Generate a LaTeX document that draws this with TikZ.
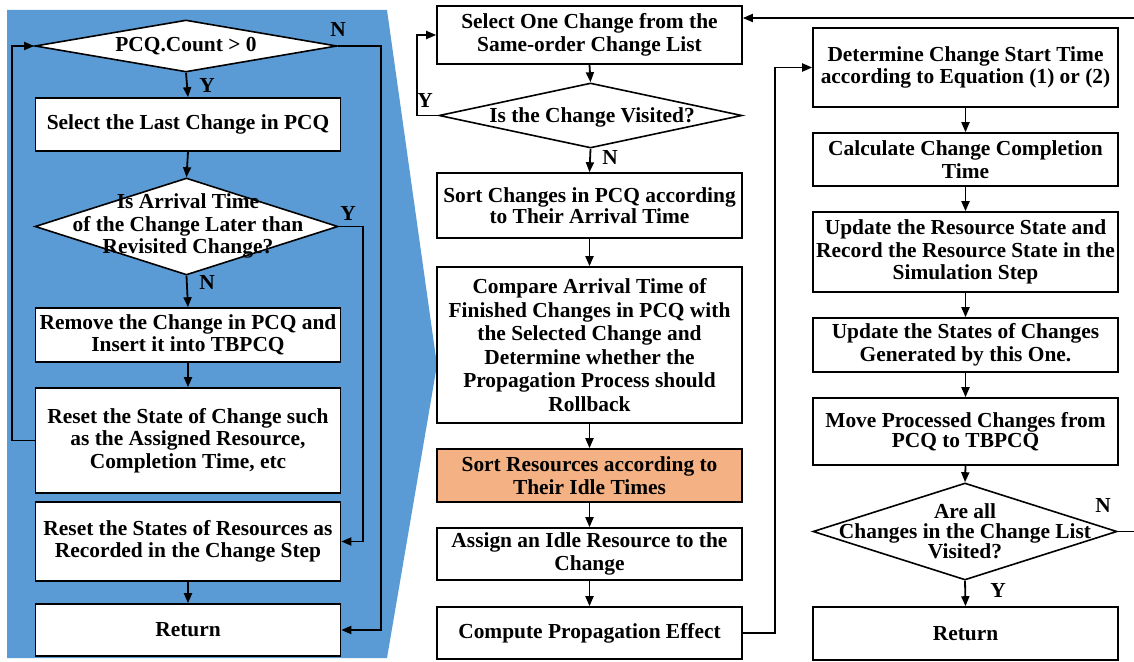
\documentclass[tikz,border=0pt]{standalone}
\usepackage{fontspec}
\setmainfont{Liberation Serif}
\usetikzlibrary{shapes.geometric,arrows.meta}
\definecolor{panelblue}{RGB}{91,155,213}
\definecolor{hilite}{RGB}{244,177,131}
\begin{document}
\begin{tikzpicture}[x=1pt,y=-1pt,
  txt/.style={font=\fontsize{21.4}{22.5}\selectfont\bfseries, align=center},
  tight/.style={font=\fontsize{21.4}{18.5}\selectfont\bfseries},
  box/.style={draw, line width=1.6pt, fill=white, minimum width=305pt, inner sep=0pt, txt},
  dia/.style={draw, diamond, line width=1.6pt, fill=white, inner sep=0pt},
  arr/.style={line width=1.8pt, -{Triangle[length=10pt,width=8pt]}},
  lbl/.style={font=\fontsize{21.4}{22}\selectfont\bfseries, inner sep=0pt}]
\useasboundingbox (0,0) rectangle (1134,661);
% blue call-out panel
\fill[panelblue] (7,10) -- (387,10) -- (437,365) -- (387,658) -- (7,658) -- cycle;

% ---------- left panel ----------
\node[dia, minimum width=302pt, minimum height=52pt] (d1) at (186,46) {};
\node[txt] (d1t) at (d1) {PCQ.Count > 0};
\node[box, minimum height=53pt] (b1) at (188,124.5) {Select the Last Change in PCQ};
\node[dia, minimum width=303pt, minimum height=97pt] (d2) at (186.5,226.5) {};
\node[txt] (d2t) at (188,226) {Is Arrival Time\\of the Change Later than\\Revisited Change?};
\node[box, minimum height=54pt] (b2) at (188,335) {Remove the Change in PCQ and\\Insert it into TBPCQ};
\node[box, minimum height=105pt] (b3) at (188,440.5) {Reset the State of Change such\\as the Assigned Resource,\\Completion Time, etc};
\node[box, minimum height=79pt] (b4) at (188,541.5) {Reset the States of Resources as\\Recorded in the Change Step};
\node[box, minimum height=52pt] (b5) at (188,630) {Return};

\draw[arr] (d1.south) -- (b1.north);
\draw[arr] (b1.south) -- (d2.north);
\draw[arr] (d2.south) -- (b2.north);
\draw[arr] (b2.south) -- (b3.north);
\draw[arr] (b4.south) -- (b5.north);
\draw[arr] (b3.west) -- ++(-23,0) |- (d1.west);
\draw[arr] (d2.east) -- ++(24,0) |- (b4.east);
\draw[arr] (d1.east) -- ++(43,0) |- (b5.east);
\node[lbl] (ly1) at (207,85) {Y};
\node[lbl] (ln1) at (338,29) {N};
\node[lbl] (ly2) at (348,213) {Y};
\node[lbl] (ln2) at (207,282) {N};

% ---------- middle column ----------
\node[box, minimum height=58pt] (m1) at (589.5,35) {Select One Change from the\\Same-order Change List};
\node[dia, minimum width=303pt, minimum height=65pt] (md) at (590.5,115.5) {};
\node[txt] (mdt) at (592,117) {Is the Change Visited?};
\node[box, minimum height=65pt, tight] (m2) at (589.5,205.5) {Sort Changes in PCQ according\\to Their Arrival Time};
\node[box, minimum height=156pt, font=\fontsize{21.4}{23.5}\selectfont\bfseries] (m3) at (589.5,345) {Compare Arrival Time of\\Finished Changes in PCQ with\\the Selected Change and\\Determine whether the\\Propagation Process should\\Rollback};
\node[box, fill=hilite, minimum height=53pt] (m4) at (589.5,475.5) {Sort Resources according to\\Their Idle Times};
\node[box, minimum height=52pt] (m5) at (589.5,554) {Assign an Idle Resource to the\\Change};
\node[box, minimum height=52pt] (m6) at (589.5,633) {Compute Propagation Effect};

\draw[arr] (m1.south) -- (md.north);
\draw[arr] (md.south) -- (m2.north);
\draw[arr] (m2.south) -- (m3.north);
\draw[arr] (m3.south) -- (m4.north);
\draw[arr] (m4.south) -- (m5.north);
\draw[arr] (m5.south) -- (m6.north);
\draw[arr] (md.west) -- ++(-21,0) |- (m1.west);
\node[lbl] (ly3) at (425,100) {Y};
\node[lbl] (ln3) at (610,157) {N};

% ---------- right column ----------
\node[box, minimum height=79pt] (r1) at (965.5,67.5) {Determine Change Start Time\\according to Equation (1) or (2)};
\node[box, minimum height=53pt] (r2) at (965.5,159.5) {Calculate Change Completion\\Time};
\node[box, minimum height=80pt] (r3) at (965.5,252) {Update the Resource State and\\Record the Resource State in the\\Simulation Step};
\node[box, minimum height=54pt] (r4) at (965.5,345) {Update the States of Changes\\Generated by this One.};
\node[box, minimum height=67pt, tight] (r5) at (965.5,431.5) {Move Processed Changes from\\PCQ to TBPCQ};
\node[dia, minimum width=304pt, minimum height=97pt] (rd) at (965,531.5) {};
\node[txt, font=\fontsize{21.4}{20}\selectfont\bfseries] (rdt) at (965,531) {Are all\\Changes in the Change List\\Visited?};
\node[box, minimum height=53pt] (r6) at (965.5,633.5) {Return};

\draw[arr] (r1.south) -- (r2.north);
\draw[arr] (r2.south) -- (r3.north);
\draw[arr] (r3.south) -- (r4.north);
\draw[arr] (r4.south) -- (r5.north);
\draw[arr] (r5.south) -- (rd.north);
\draw[arr] (rd.south) -- (r6.north);
\draw[arr] (m6.east) -- ++(32,0) |- (r1.west);
\draw[arr] (rd.east) -- ++(19,0) |- ([yshift=17pt]m1.east);
\node[lbl] (ln4) at (1103,505) {N};
\node[lbl] (ly4) at (998,590) {Y};
\end{tikzpicture}
\end{document}
